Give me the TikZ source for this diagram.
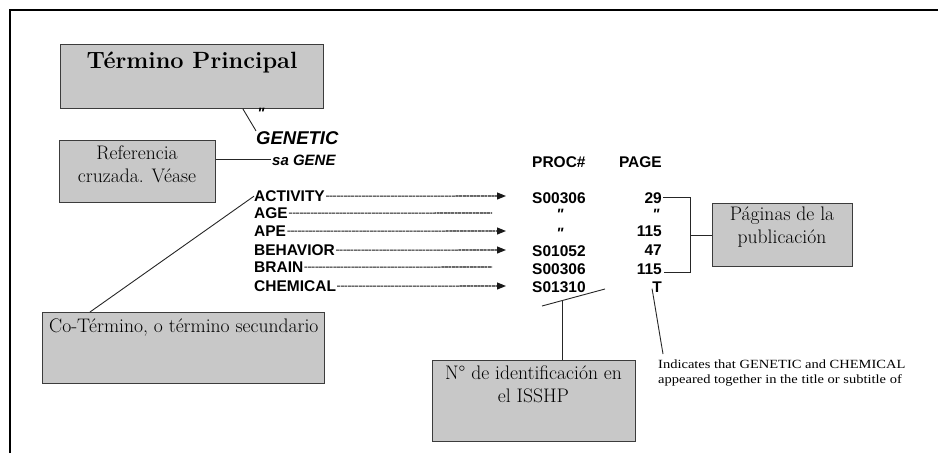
\documentclass[tikz,border=0pt]{standalone}
\usepackage{fontspec}
\usetikzlibrary{arrows.meta}
\newfontfamily\sansf{Liberation Sans}
\newfontfamily\scanserif[FakeStretch=1.16]{Liberation Serif}
\definecolor{boxfill}{RGB}{200,200,200}
\definecolor{boxline}{RGB}{60,60,60}
\tikzset{
  graybox/.style={draw=boxline, fill=boxfill, line width=0.9pt, inner sep=0pt, anchor=north west},
  boxtext/.style={font=\fontsize{19.6}{23}\selectfont, inner sep=0pt, align=center},
  term/.style={font=\sansf\bfseries\fontsize{15.5}{16}\selectfont, inner sep=0pt, anchor=base west},
  num/.style={font=\sansf\bfseries\fontsize{15.5}{16}\selectfont, inner sep=0pt},
  ditto/.style={font=\sansf\bfseries\itshape\fontsize{15}{15}\selectfont, inner sep=0pt},
  leader/.style={line width=1.1pt, draw=black!90, dash pattern=on 3pt off 0.6pt},
  leadarrow/.style={leader, -{Triangle[length=9pt,width=7pt]}},
  conn/.style={line width=0.9pt, draw=black!85},
}
\begin{document}
\begin{tikzpicture}[x=1pt,y=-1pt]
\useasboundingbox (0,0) rectangle (938,453);
% frame
\draw[line width=2pt] (10,453) -- (10,10) -- (938,10);

% boxes
\node[graybox, minimum width=263pt, minimum height=64pt] (tp) at (60,44) {};
\node[inner sep=0pt, anchor=base, font=\bfseries\fontsize{23.5}{26}\selectfont] (tpt) at (192,68) {Término Principal};

\node[graybox, minimum width=156pt, minimum height=62pt] (rf) at (59,140) {};
\node[boxtext, anchor=north] (rft) at (137,146) {Referencia\\cruzada. Véase};

\node[graybox, minimum width=282pt, minimum height=71pt] (ct) at (42,312) {};
\node[boxtext, anchor=base west] (ctt) at (49,332) {Co-Término, o término secundario};

\node[graybox, minimum width=203pt, minimum height=81pt] (nb) at (432,360) {};
\node[boxtext, anchor=north] (nbt) at (533.5,366) {N° de identificación en\\el ISSHP};

\node[graybox, minimum width=140pt, minimum height=63pt] (pag) at (712,203) {};
\node[boxtext, anchor=north] (pagt) at (782,207) {Páginas de la\\publicación};

% heading terms
\node[ditto] (q0) at (261,113) {"};
\node[inner sep=0pt, anchor=base west, font=\sansf\bfseries\itshape\fontsize{18.5}{20}\selectfont] (gen) at (256,144) {GENETIC};
\node[inner sep=0pt, anchor=base west, font=\sansf\bfseries\itshape\fontsize{15}{16}\selectfont] (sa) at (272,165) {sa GENE};

% column heads
\node[num, anchor=base west] (proc) at (532,167) {PROC\#};
\node[num, anchor=base east] (page) at (662,167) {PAGE};

% rows
\node[term] (act) at (254,201.5) {ACTIVITY};
\node[term] (age) at (254,218.5) {AGE};
\node[term] (ape) at (254,236.5) {APE};
\node[term] (beh) at (254,255.5) {BEHAVIOR};
\node[term] (bra) at (254,272.5) {BRAIN};
\node[term] (che) at (254,291.5) {CHEMICAL};

\coordinate (eAct) at (506,196);
\coordinate (eAge) at (492,213);
\coordinate (eApe) at (506,231);
\coordinate (eBeh) at (506,250);
\coordinate (eBra) at (492,267);
\coordinate (eChe) at (506,286);

\draw[leadarrow] ([xshift=1pt]act.east) -- (eAct);
\draw[leader] ([xshift=1pt]age.east) -- (eAge);
\draw[leadarrow] ([xshift=1pt]ape.east) -- (eApe);
\draw[leadarrow] ([xshift=1pt]beh.east) -- (eBeh);
\draw[leader] ([xshift=1pt]bra.east) -- (eBra);
\draw[leadarrow] ([xshift=1pt]che.east) -- (eChe);

% proc numbers
\node[num, anchor=base west] (s1) at (532,203) {S00306};
\node[ditto] (s2) at (560,214) {"};
\node[ditto] (s3) at (560,233) {"};
\node[num, anchor=base west] (s4) at (532,256) {S01052};
\node[num, anchor=base west] (s5) at (532,274) {S00306};
\node[num, anchor=base west] (s6) at (532,292) {S01310};

% pages
\node[num, anchor=base east] (p1) at (662,203) {29};
\node[ditto] (p2) at (656,214) {"};
\node[num, anchor=base east] (p3) at (662,236) {115};
\node[num, anchor=base east] (p4) at (662,255.5) {47};
\node[num, anchor=base east] (p5) at (662,274) {115};
\node[num, anchor=base east] (pT) at (662,292.5) {T};

% bracket
\coordinate (brt) at (690,197);
\coordinate (brb) at (690,272);
\draw[conn] ([xshift=1pt]p1.east) -- (p1.east -| brt) -- (brb) -- ([xshift=2pt]brb -| p5.east);
\draw[conn] (pag.west -| brt) -- (pag.west);

% connectors
\draw[conn] ([xshift=-81pt]tp.south east) -- (gen.north west);
\draw[conn] (rf.east |- sa.west) -- ([xshift=-1pt]sa.west);
\draw[conn] ([xshift=48pt]ct.north west) -- (act.west);

\coordinate (sl1) at (542,306);
\coordinate (sl2) at (605,289);
\coordinate (slm) at (562,300.6);
\draw[conn] (sl1) -- (sl2);
\draw[conn] (slm) -- (slm |- nb.north);

% T note
\node[inner sep=0pt, anchor=north west, align=left, font=\scanserif\fontsize{12.5}{15}\selectfont] (ind) at (658,360) {Indicates that GENETIC and CHEMICAL\\appeared together in the title or subtitle of};
\coordinate (tEnd) at (663,354);
\draw[conn] ([xshift=-5pt,yshift=4pt]pT.south) -- (tEnd);
\end{tikzpicture}
\end{document}
